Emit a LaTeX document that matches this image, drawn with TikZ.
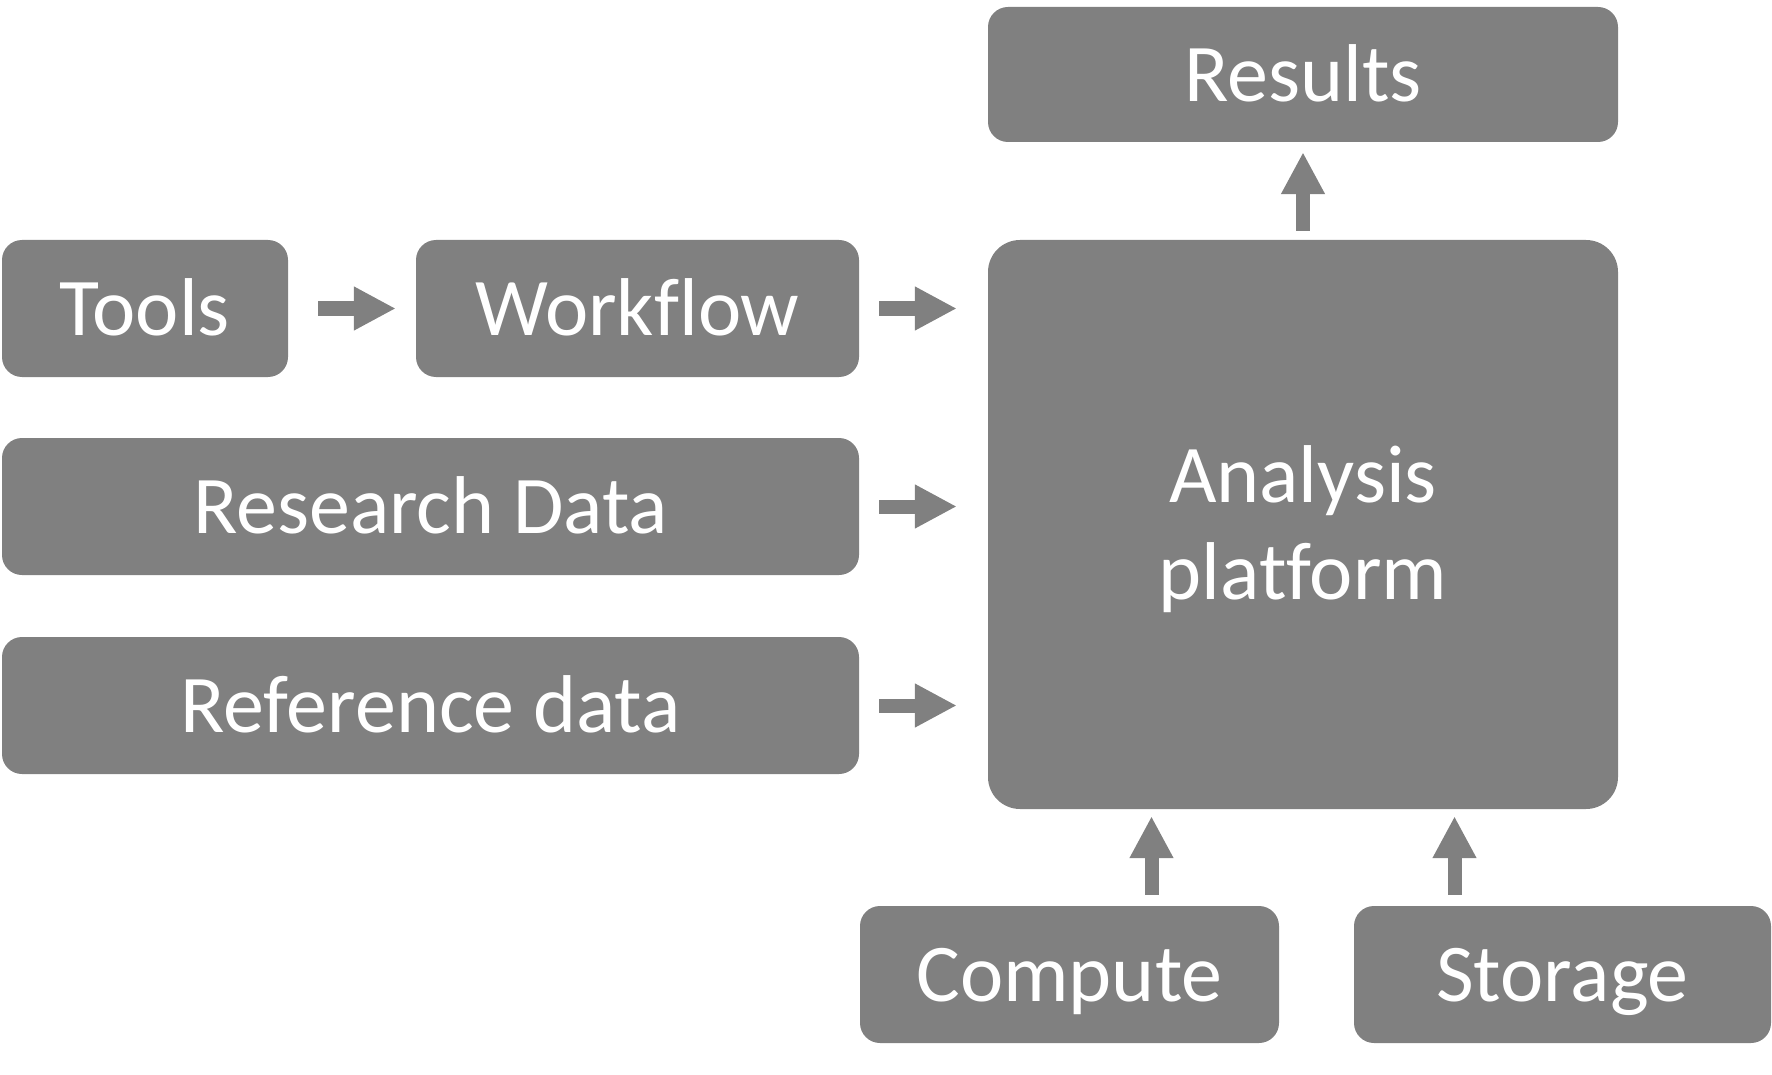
\documentclass[tikz,border=0pt]{standalone}
\usepackage{fontspec}
\setmainfont[Ligatures=NoCommon]{Carlito}
\usetikzlibrary{arrows.meta}
\definecolor{boxgray}{RGB}{128,128,128}
\begin{document}
\begin{tikzpicture}[x=1pt,y=-1pt,
  box/.style={fill=boxgray, draw=none, rounded corners=20pt, inner sep=0pt,
    text=white, font=\fontsize{82}{97}\selectfont, text height=54pt, text depth=0pt},
  txt/.style={inner sep=0pt, text=white, font=\fontsize{82}{97}\selectfont, align=center},
  blockarrow/.style={draw=boxgray, line width=14pt, -{Triangle[length=42pt,width=41pt]}}]
\useasboundingbox (0,0) rectangle (1772,1075);
\node[box, minimum width=630pt, minimum height=135pt] (results) at (1303,74.5) {Results};
\node[box, minimum width=286pt, minimum height=137pt] (tools) at (145,308.5) {Tools};
\node[box, minimum width=443pt, minimum height=137pt] (workflow) at (637.5,308.5) {Workflow};
\node[box, minimum width=857pt, minimum height=137pt] (research) at (430.5,506.5) {Research Data};
\node[box, minimum width=857pt, minimum height=137pt] (reference) at (430.5,705.5) {Reference data};
\node[box, rounded corners=32pt, minimum width=630pt, minimum height=569pt] (analysis) at (1303,524.5) {};
\node[txt] (analysislabel) at ([yshift=-5pt]analysis.center) {Analysis\\platform};
\node[box, minimum width=419pt, minimum height=137pt] (compute) at (1069.5,974.5) {Compute};
\node[box, minimum width=417pt, minimum height=137pt] (storage) at (1562.5,974.5) {Storage};
\coordinate (c1) at (1151.5,0);
\coordinate (s1) at (1454.5,0);
\draw[blockarrow, shorten <=30pt, shorten >=20pt] (tools.east) -- (workflow.west);
\draw[blockarrow, shorten <=20pt, shorten >=31pt] (workflow.east) -- (workflow.east -| analysis.west);
\draw[blockarrow, shorten <=20pt, shorten >=31pt] (research.east) -- (research.east -| analysis.west);
\draw[blockarrow, shorten <=20pt, shorten >=31pt] (reference.east) -- (reference.east -| analysis.west);
\draw[blockarrow, shorten <=9pt, shorten >=10pt] (analysis.north) -- (results.south);
\draw[blockarrow, shorten <=11pt, shorten >=7pt] (compute.north -| c1) -- (analysis.south -| c1);
\draw[blockarrow, shorten <=11pt, shorten >=7pt] (storage.north -| s1) -- (analysis.south -| s1);
\end{tikzpicture}
\end{document}
